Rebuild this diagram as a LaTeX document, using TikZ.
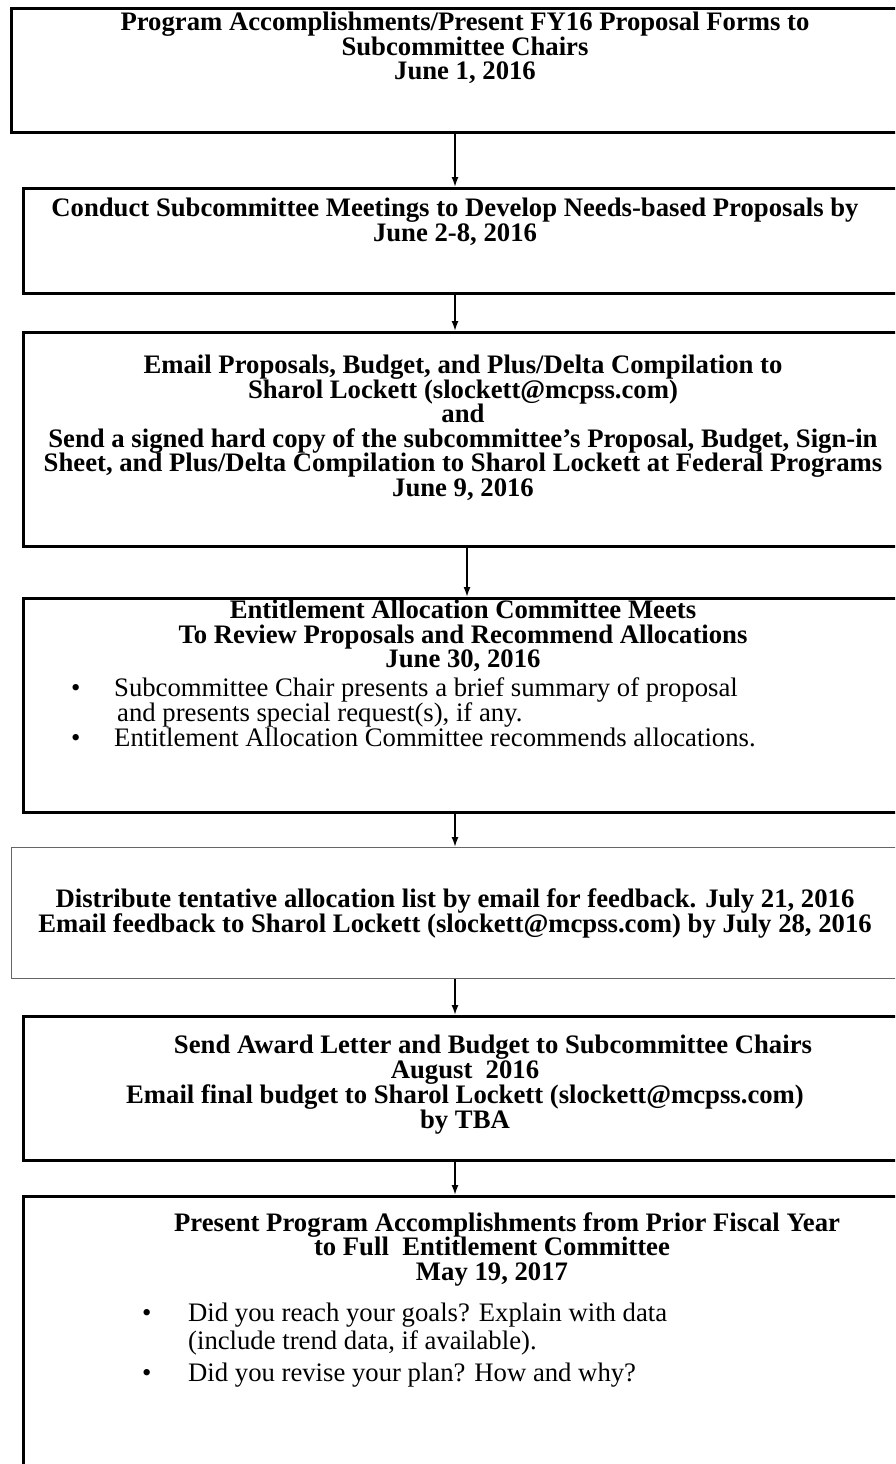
\documentclass[tikz,border=0pt]{standalone}
\usepackage{fontspec}
\setmainfont{Liberation Serif}
\usetikzlibrary{arrows.meta}

\begin{document}
\begin{tikzpicture}[x=1pt,y=-1pt,>={Latex[length=10pt,width=7pt]}]
    \tikzstyle{every node}=[inner sep=0pt, font=\fontsize{26.7}{24.5}\selectfont]
    \tikzstyle{box}=[draw, line width=2.6pt, anchor=north west, minimum width=900pt]
    \tikzstyle{thin box}=[box, draw=black!60, line width=1.1pt]
    \tikzstyle{heading}=[font=\fontsize{26.7}{24.5}\selectfont\bfseries, align=center, anchor=north]
    \tikzstyle{bullets}=[align=left, anchor=north west]
    \tikzstyle{arrow}=[->, line width=1.7pt]

    \useasboundingbox (0,0) rectangle (895,1464);
    \clip (0,0) rectangle (895,1464);

    % the seven steps
    \node[box, minimum height=124pt] (b1) at (10,7) {};
    \node[box, minimum height=105pt] (b2) at (22,187) {};
    \node[box, minimum height=214pt] (b3) at (22,331) {};
    \node[box, minimum height=214pt] (b4) at (22,597) {};
    \node[thin box, minimum height=131pt] (b5) at (11,847) {};
    \node[box, minimum height=144pt] (b6) at (22,1015) {};
    \node[box, minimum height=300pt] (b7) at (22,1195) {};

    \node[heading] (t1) at (465,12)
        {Program Accomplishments/Present FY16 Proposal Forms to\\Subcommittee Chairs\\June 1, 2016};
    \node[heading] (t2) at (455,198)
        {Conduct Subcommittee Meetings to Develop Needs-based Proposals by\\June 2-8, 2016};
    \node[heading] (t3) at (463,355)
        {Email Proposals, Budget, and Plus/Delta Compilation to\\Sharol Lockett (slockett@mcpss.com)\\and\\
         Send a signed hard copy of the subcommittee’s Proposal, Budget, Sign-in\\
         Sheet, and Plus/Delta Compilation to Sharol Lockett at Federal Programs\\June 9, 2016};
    \node[heading] (t4) at (463,600)
        {Entitlement Allocation Committee Meets\\To Review Proposals and Recommend Allocations\\June 30, 2016};
    \node[bullets, font=\fontsize{26.7}{23.5}\selectfont] (l4) at (71,677)
        {\makebox[43pt][l]{\textbullet}Subcommittee Chair presents a brief summary of proposal\\
         \hspace*{46pt}and presents special request(s), if any.\\
         \makebox[43pt][l]{\textbullet}Entitlement Allocation Committee recommends allocations.};
    \node[heading] (t5) at (455,888)
        {Distribute tentative allocation list by email for feedback. July 21, 2016\\
         Email feedback to Sharol Lockett (slockett@mcpss.com) by July 28, 2016};
    \node[heading] (t6) at (465,1035)
        {\hspace*{56pt}Send Award Letter and Budget to Subcommittee Chairs\\August\ \ 2016\\
         Email final budget to Sharol Lockett (slockett@mcpss.com)\hspace*{48pt}\\by TBA};
    \node[heading] (t7) at (492,1212)
        {\hspace*{30pt}Present Program Accomplishments from Prior Fiscal Year\\to Full\ \ Entitlement Committee\\May 19, 2017};
    \node[bullets, font=\fontsize{26.7}{27.5}\selectfont] (l7) at (142,1303)
        {\makebox[46pt][l]{\textbullet}Did you reach your goals? Explain with data\\
         \hspace*{46pt}(include trend data, if available).\\[5pt]
         \makebox[46pt][l]{\textbullet}Did you revise your plan? How and why?};

    % arrows between the steps
    \coordinate (axis) at (455,0);
    \coordinate (axis3) at (467,0);
    \foreach \src/\dst/\ax in {b1/b2/axis, b2/b3/axis, b3/b4/axis3, b4/b5/axis, b5/b6/axis, b6/b7/axis}
        \draw[arrow] (\src.south west -| \ax) -- (\dst.north west -| \ax);
\end{tikzpicture}
\end{document}
